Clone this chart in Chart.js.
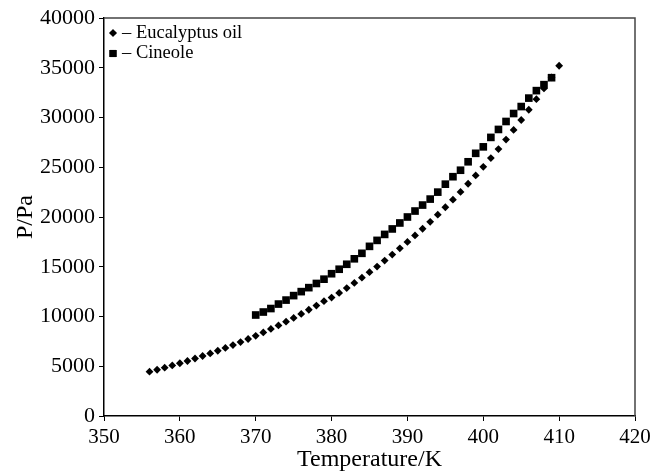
<!DOCTYPE html>
<html>
<head>
<meta charset="utf-8">
<script src="https://cdn.jsdelivr.net/npm/chart.js@4/dist/chart.umd.min.js"></script>
<style>
  html, body { margin: 0; padding: 0; background: #fff; }
  #wrap { width: 655px; height: 472px; }
</style>
</head>
<body>
<div id="wrap"><canvas id="grafico" width="655" height="472"></canvas></div>
<script>
// dados
const tempEuc = [356, 357, 358, 359, 360, 361, 362, 363, 364, 365, 366, 367, 368, 369, 370,
  371, 372, 373, 374, 375, 376, 377, 378, 379, 380, 381, 382, 383, 384, 385, 386, 387, 388,
  389, 390, 391, 392, 393, 394, 395, 396, 397, 398, 399, 400, 401, 402, 403, 404, 405, 406,
  407, 408, 409, 410];
const presEuc = [4450, 4650, 4860, 5080, 5300, 5530, 5780, 6030, 6290, 6560, 6840, 7130, 7430,
  7740, 8060, 8400, 8750, 9100, 9480, 9860, 10260, 10680, 11100, 11540, 11900, 12370, 12860,
  13370, 13900, 14450, 15020, 15620, 16220, 16850, 17500, 18150, 18820, 19520, 20230, 20980,
  21740, 22520, 23340, 24180, 25040, 25920, 26830, 27780, 28750, 29750, 30780, 31840, 32920,
  34040, 35200];
const tempCin = [370, 371, 372, 373, 374, 375, 376, 377, 378, 379, 380, 381, 382, 383, 384,
  385, 386, 387, 388, 389, 390, 391, 392, 393, 394, 395, 396, 397, 398, 399, 400, 401, 402,
  403, 404, 405, 406, 407, 408, 409];
const presCin = [10150, 10450, 10800, 11250, 11650, 12100, 12500, 12900, 13320, 13750, 14300,
  14750, 15250, 15800, 16350, 17050, 17650, 18250, 18800, 19400, 20000, 20600, 21200, 21800,
  22500, 23300, 24050, 24700, 25550, 26400, 27050, 28000, 28800, 29600, 30400, 31100, 31950,
  32700, 33300, 34000];
const xTicks = [350, 360, 370, 380, 390, 400, 410, 420];
const yTicks = [0, 5000, 10000, 15000, 20000, 25000, 30000, 35000, 40000];
const nomes = ["Eucalyptus oil", "Cineole"];

const fonte = "'Times New Roman', 'Liberation Serif', serif";

function pontos(xs, ys) {
  return xs.map((x, i) => ({ x: x, y: ys[i] }));
}

// moldura de cima e da direita
const moldura = {
  id: "moldura",
  afterDraw(chart) {
    const a = chart.chartArea;
    const ctx = chart.ctx;
    ctx.save();
    ctx.strokeStyle = "#444";
    ctx.lineWidth = 1.5;
    ctx.beginPath();
    ctx.moveTo(a.left, a.top);
    ctx.lineTo(a.right, a.top);
    ctx.lineTo(a.right, a.bottom);
    ctx.stroke();
    ctx.restore();
  }
};

// legenda dentro do grafico
const legenda = {
  id: "legenda",
  afterDraw(chart) {
    const a = chart.chartArea;
    const ctx = chart.ctx;
    ctx.save();
    ctx.fillStyle = "#000";
    ctx.font = "18.5px " + fonte;
    ctx.textBaseline = "middle";
    const estilos = ["rectRot", "rect"];
    const raios = [3.8, 5];
    nomes.forEach((nome, i) => {
      const y = a.top + 15 + i * 20.5;
      Chart.helpers.drawPoint(ctx, { pointStyle: estilos[i], radius: raios[i], borderWidth: 0 }, a.left + 9, y);
      ctx.fillStyle = "#000";
      ctx.fill();
      ctx.fillText("\u2013 " + nome, a.left + 18, y);
    });
    ctx.restore();
  }
};

const ctx = document.getElementById("grafico");
new Chart(ctx, {
  type: "scatter",
  data: {
    datasets: [
      {
        label: nomes[0],
        data: pontos(tempEuc, presEuc),
        pointStyle: "rectRot",
        pointRadius: 3.9,
        backgroundColor: "#000",
        borderColor: "#000",
        borderWidth: 0
      },
      {
        label: nomes[1],
        data: pontos(tempCin, presCin),
        pointStyle: "rect",
        pointRadius: 5.4,
        backgroundColor: "#000",
        borderColor: "#000",
        borderWidth: 0
      }
    ]
  },
  options: {
    responsive: false,
    animation: false,
    layout: { padding: { left: 10, right: 20, top: 18, bottom: 0 } },
    plugins: {
      legend: { display: false },
      tooltip: { enabled: false }
    },
    scales: {
      x: {
        type: "linear",
        min: 350,
        max: 420,
        afterBuildTicks: (s) => { s.ticks = xTicks.map(v => ({ value: v })); },
        afterFit: (s) => { s.height = 56; },
        grid: { drawOnChartArea: false, drawTicks: true, tickLength: 5, color: "#000" },
        border: { color: "#000", width: 1.5 },
        ticks: { color: "#000", font: { family: fonte, size: 21 }, padding: 4, maxRotation: 0 },
        title: { display: true, text: "Temperature/K", color: "#000", font: { family: fonte, size: 24, lineHeight: 1 }, padding: { top: 0, bottom: 0 } }
      },
      y: {
        type: "linear",
        min: 0,
        max: 40000,
        afterBuildTicks: (s) => { s.ticks = yTicks.map(v => ({ value: v })); },
        afterFit: (s) => { s.width = 94; },
        grid: { drawOnChartArea: false, drawTicks: true, tickLength: 5, color: "#000" },
        border: { color: "#000", width: 1.5 },
        ticks: { color: "#000", font: { family: fonte, size: 22 }, padding: 4, callback: (v) => String(v) },
        title: { display: true, text: "P/Pa", color: "#000", font: { family: fonte, size: 24, lineHeight: 1 }, padding: { top: 4, bottom: 0 } }
      }
    }
  },
  plugins: [moldura, legenda]
});
</script>
</body>
</html>
